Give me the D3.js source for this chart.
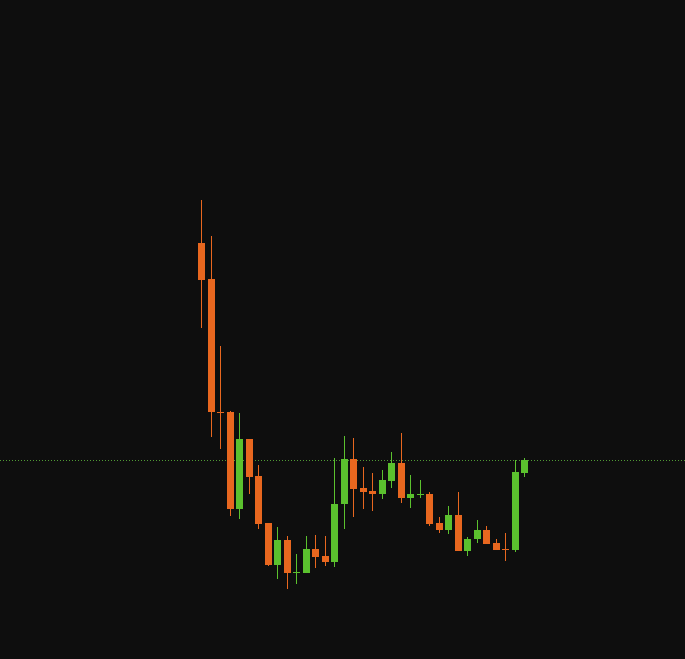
<!DOCTYPE html>
<html>
<head>
<meta charset="utf-8">
<script src="https://cdn.jsdelivr.net/npm/d3@7"></script>
<style>
  html, body { margin: 0; padding: 0; background: #0e0e0e; }
  svg { display: block; }
</style>
</head>
<body>
<svg id="chart" width="685" height="659"></svg>
<script>
// ---- data (price units) ----
const periods = d3.range(1, 36).map(String);
const openVals  = [41.7,38.1,24.8,24.8,15.1,22.1,18.4,13.7, 9.5,12.0,8.75, 8.7,11.1,10.4, 9.8,15.6,20.1,17.2,16.9,16.6,17.9,19.7,16.2,16.55,16.6,13.7,13.0,14.5,10.9,12.1,13.0,11.7,11.1,11.0,18.7];
const highVals  = [46.0,42.4,31.4,24.9,24.7,22.1,19.5,13.7,13.3,12.4,10.6,12.4,12.5,12.4,20.2,22.4,22.2,19.3,18.7,19.0,20.8,22.7,18.5,18.0,16.8,14.3,15.4,16.8,12.3,14.0,13.4,12.1,12.7,20.0,20.2];
const lowVals   = [33.2,22.3,21.1,14.4,14.1,16.6,13.1, 9.4, 8.1, 7.1, 7.6, 8.7, 9.2, 9.4, 9.3,13.1,14.3,15.1,14.9,16.1,17.2,15.7,15.2,16.2,13.4,12.7,12.6,10.9,10.4,11.7,11.6,11.0, 9.9,10.8,18.3];
const closeVals = [38.0,24.8,24.79,15.1,22.1,18.3,13.6, 9.5,12.0, 8.7, 8.8,11.1,10.3, 9.8,15.6,20.1,17.1,16.8,16.6,18.0,19.7,16.2,16.6,16.6,13.6,13.0,14.5,10.9,12.1,13.0,11.6,11.0,11.05,18.8,20.0];

const upColor = "#5bc12e";
const downColor = "#e8671f";
const lastLineColor = "#4f9a34";

const svg = d3.select("#chart");
const W = 685, H = 659;

const x = d3.scalePoint().domain(periods).range([201.5, 524.5]);
const y = d3.scaleLinear().domain([0, 66]).range([660, 0]);

const candles = periods.map((p, i) => ({
  p, o: openVals[i], h: highVals[i], l: lowVals[i], c: closeVals[i]
}));

// last price dotted line
const lastClose = closeVals[closeVals.length - 1];
svg.append("line")
  .attr("x1", 0).attr("x2", W)
  .attr("y1", Math.round(y(lastClose)) + 0.5)
  .attr("y2", Math.round(y(lastClose)) + 0.5)
  .attr("stroke", lastLineColor)
  .attr("stroke-width", 1)
  .attr("stroke-dasharray", "1,2");

const g = svg.append("g").attr("shape-rendering", "crispEdges");
const color = d => d.c > d.o ? upColor : downColor;

g.selectAll("line.wick").data(candles).join("line")
  .attr("class", "wick")
  .attr("x1", d => Math.floor(x(d.p)) + 0.5)
  .attr("x2", d => Math.floor(x(d.p)) + 0.5)
  .attr("y1", d => Math.round(y(d.h)))
  .attr("y2", d => Math.round(y(d.l)))
  .attr("stroke", color)
  .attr("stroke-width", 1);

const bodyW = 7;
g.selectAll("rect.body").data(candles).join("rect")
  .attr("class", "body")
  .attr("x", d => Math.floor(x(d.p)) - 3)
  .attr("width", bodyW)
  .attr("y", d => Math.round(y(Math.max(d.o, d.c))))
  .attr("height", d => Math.max(1, Math.round(Math.abs(y(d.o) - y(d.c)))))
  .attr("fill", color);
</script>
</body>
</html>
